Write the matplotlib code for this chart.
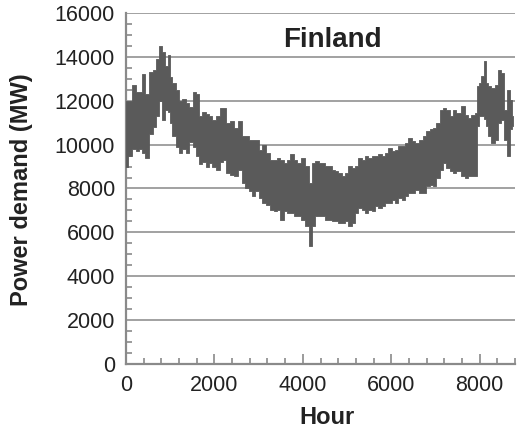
import numpy as np
import matplotlib
matplotlib.use('Agg')
import matplotlib.pyplot as plt
from matplotlib.ticker import MultipleLocator

# envelope of the hourly demand (hour, daily high, daily low)
hour = [0, 100, 180, 250, 330, 390, 480, 560, 640, 710, 790, 850, 935, 975, 1010,
        1090, 1160, 1240, 1310, 1390, 1460, 1555, 1615, 1690, 1765, 1840, 1915, 1990,
        2070, 2180, 2210, 2320, 2400, 2475, 2587, 2662, 2738, 2813, 2888, 2964, 3039,
        3115, 3228, 3303, 3378, 3454, 3529, 3605, 3680, 3755, 3831, 3906, 4019, 4095,
        4170, 4245, 4321, 4396, 4464, 4540, 4615, 4691, 4766, 4841, 4917, 4992, 5068,
        5143, 5218, 5294, 5369, 5445, 5520, 5595, 5671, 5746, 5822, 5897, 5972, 6048,
        6123, 6199, 6274, 6349, 6425, 6500, 6576, 6681, 6757, 6832, 6908, 6983, 7058,
        7134, 7209, 7285, 7360, 7435, 7511, 7624, 7699, 7775, 7850, 7925, 7963, 8001,
        8076, 8114, 8152, 8227, 8303, 8378, 8453, 8529, 8582, 8642, 8717, 8760]

high = [12000, 12000, 12700, 12400, 12400, 13200, 12300, 13300, 13400, 13900, 14500,
        14200, 13600, 14100, 13100, 12800, 12500, 12000, 12100, 11900, 11700, 12400,
        12300, 11300, 11500, 11400, 11300, 11100, 11300, 11650, 11675, 10990, 11065,
        10760, 11065, 10380, 10380, 10230, 10230, 10230, 9770, 10000, 9620, 9320, 9320,
        9390, 9320, 9170, 9320, 9550, 9320, 9170, 9390, 9010, 8250, 9170, 9240, 9170,
        9170, 9010, 9010, 8860, 8780, 8710, 8560, 8710, 9010, 8940, 9010, 9390, 9320,
        9470, 9390, 9470, 9470, 9550, 9470, 9620, 9850, 9700, 9770, 9920, 9920, 10080,
        10300, 10150, 10080, 10230, 10380, 10610, 10690, 10760, 10990, 11600, 11670,
        11600, 11300, 11600, 11450, 11750, 11370, 11220, 11370, 11450, 12660, 12810,
        13120, 13800, 12810, 12660, 12590, 12740, 13420, 13270, 11600, 12510, 12050,
        11300]

low = [9000, 9500, 9800, 9700, 9800, 9600, 9400, 10500, 10800, 11300, 12000, 11100,
       11600, 11500, 11000, 10400, 9900, 9600, 9800, 9600, 10100, 9900, 9500, 9100,
       9200, 9000, 9150, 9000, 8850, 9200, 9320, 8710, 8635, 8560, 8860, 8250, 8030,
       7870, 7640, 7870, 7570, 7340, 7270, 7040, 6960, 7040, 6580, 6960, 6890, 6890,
       6730, 6730, 6580, 6280, 5370, 6280, 6730, 6730, 6730, 6580, 6580, 6500, 6500,
       6430, 6430, 6500, 6280, 6430, 6890, 7110, 7040, 6890, 7040, 6960, 7190, 7110,
       7190, 7340, 7340, 7490, 7340, 7570, 7490, 7640, 7800, 7800, 7950, 7800, 7800,
       8100, 8180, 8100, 8480, 8860, 9170, 8940, 8790, 8710, 8790, 8560, 8480, 8560,
       8560, 8560, 10840, 11300, 11300, 11150, 10840, 10380, 10080, 10230, 10990,
       11140, 10230, 9470, 10690, 10840]

plt.rcParams['font.family'] = ['Liberation Sans', 'DejaVu Sans']

fig = plt.figure(figsize=(5.17, 4.33), dpi=100)
ax = fig.add_axes([126/517, 69/433, 389/517, 351/433])

ax.fill_between(hour, low, high, step='mid', color='#5a5a5a', lw=0.6, edgecolor='#5a5a5a', zorder=3)

ax.set_xlim(0, 8800)
ax.set_ylim(0, 16000)
ax.xaxis.set_major_locator(MultipleLocator(2000))
ax.xaxis.set_minor_locator(MultipleLocator(400))
ax.yaxis.set_major_locator(MultipleLocator(2000))
ax.yaxis.set_minor_locator(MultipleLocator(500))

ax.grid(axis='y', which='major', color='#9a9a9a', lw=1.3, zorder=1)
for s in ['top', 'right']:
    ax.spines[s].set_visible(False)
for s in ['left', 'bottom']:
    ax.spines[s].set_color('#8a8a8a')
    ax.spines[s].set_linewidth(1.6)

ax.tick_params(axis='both', which='both', direction='in', color='#8a8a8a', width=1.2,
               labelsize=15.5, labelcolor='#222222', pad=8)
ax.tick_params(axis='x', which='major', length=7)
ax.tick_params(axis='both', which='minor', length=4.5)
ax.tick_params(axis='y', which='major', length=0)

ax.text(0.53, 0.923, 'Finland', transform=ax.transAxes, ha='center', va='center',
        fontsize=20, fontweight='bold', color='#222222')

fig.text(22/517, 1 - 190/433, 'Power demand (MW)', rotation=90, ha='center', va='center',
         fontsize=17, fontweight='bold', color='#222222')
fig.text(327/517, 1 - 418/433, 'Hour', ha='center', va='center',
         fontsize=17, fontweight='bold', color='#222222')

plt.savefig('out.png', dpi=100)
